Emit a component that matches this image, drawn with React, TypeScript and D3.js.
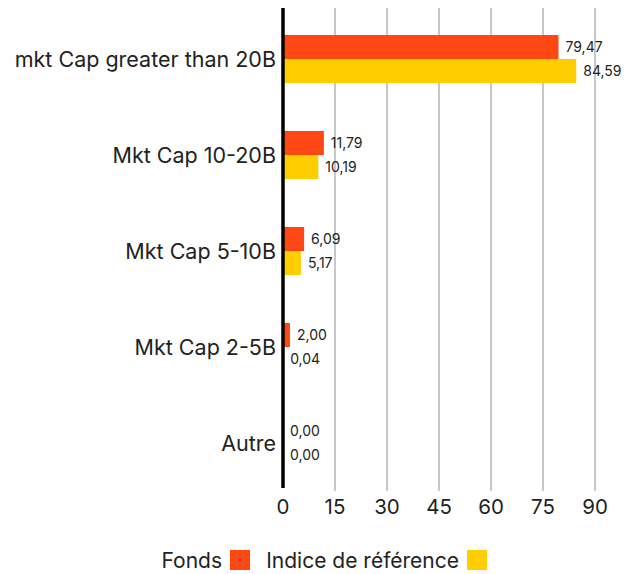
import React from "react";
import * as d3 from "d3";

const categories = ["mkt Cap greater than 20B", "Mkt Cap 10-20B", "Mkt Cap 5-10B", "Mkt Cap 2-5B", "Autre"];
const seriesNames = ["Fonds", "Indice de référence"];
const fonds = [79.47, 11.79, 6.09, 2.0, 0.0];
const indice = [84.59, 10.19, 5.17, 0.04, 0.0];
const ticks = [0, 15, 30, 45, 60, 75, 90];
const colors = ["#FF4713", "#FFCE00"];

const W = 634;
const H = 574;
const FONT = "Inter, 'Noto Sans', sans-serif";

export default function App() {
  const x = d3.scaleLinear().domain([0, 90]).range([283, 595]);
  const y = d3.scaleBand<string>().domain(categories).range([11, 491]).paddingInner(0.5).paddingOuter(0.25);
  const sub = d3.scaleBand<string>().domain(seriesNames).range([0, y.bandwidth()]);
  const fmt = (v: number) => v.toFixed(2).replace(".", ",");
  const series = [fonds, indice];

  return (
    <svg width={W} height={H} style={{ position: "absolute", left: 0, top: 0, fontFamily: FONT }}>
      {ticks.slice(1).map((t) => (
        <line key={t} x1={x(t)} x2={x(t)} y1={8} y2={491} stroke="#c8c8c8" strokeWidth={2} />
      ))}
      {categories.map((c, i) => (
        <g key={c}>
          {series.map((s, j) => {
            const v = s[i];
            const yy = (y(c) as number) + (sub(seriesNames[j]) as number);
            return (
              <g key={j}>
                <rect x={x(0)} y={yy} width={x(v) - x(0)} height={sub.bandwidth()} fill={colors[j]} />
                <text x={x(v) + 7} y={yy + sub.bandwidth() / 2} dy="0.35em" fontSize={14} fill="#222">
                  {fmt(v)}
                </text>
              </g>
            );
          })}
          <text x={276} y={(y(c) as number) + y.bandwidth() / 2} dy="0.35em" textAnchor="end" fontSize={21.5} fill="#222">
            {c}
          </text>
        </g>
      ))}
      <line x1={x(0)} x2={x(0)} y1={8} y2={488} stroke="#000" strokeWidth={3.5} />
      {ticks.map((t) => (
        <text key={t} x={x(t)} y={507} dy="0.35em" textAnchor="middle" fontSize={20.5} fill="#222">
          {t}
        </text>
      ))}
      <g>
        <text x={222} y={561} dy="0.35em" textAnchor="end" fontSize={21} fill="#222">{seriesNames[0]}</text>
        <rect x={230} y={550} width={20} height={20} fill={colors[0]} />
        <text x={459} y={561} dy="0.35em" textAnchor="end" fontSize={21} fill="#222">{seriesNames[1]}</text>
        <rect x={467} y={550} width={20} height={20} fill={colors[1]} />
      </g>
    </svg>
  );
}
